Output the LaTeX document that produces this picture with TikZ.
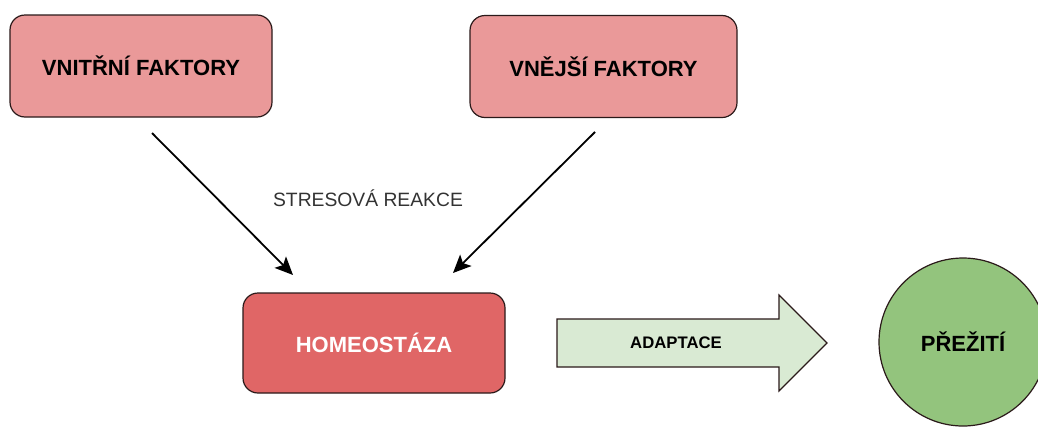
\documentclass[tikz,border=0pt]{standalone}
\usepackage{fontspec}
\setmainfont{Liberation Sans}
\usepackage{tikz}
\usetikzlibrary{arrows.meta, positioning, calc}

\definecolor{faktorRed}{HTML}{EA9999}
\definecolor{homeoRed}{HTML}{E06666}
\definecolor{adaptGreen}{HTML}{D9EAD3}
\definecolor{prezitiGreen}{HTML}{93C47D}
\definecolor{okraj}{HTML}{2B1A1A}

\tikzset{
    faktor/.style={draw=okraj, line width=1.2pt, rounded corners=15pt, fill=faktorRed,
        minimum width=262pt, minimum height=102pt, font=\fontsize{22}{26}\selectfont\bfseries},
    sipka/.style={-{Stealth[length=18pt, width=16pt, inset=4pt]}, line width=1.8pt}
}

\begin{document}
\begin{tikzpicture}[x=1pt, y=-1pt]

    % Rozmery obrazku
    \clip (0,0) rectangle (1038,426);
    \fill[white] (0,0) rectangle (1038,426);

    % --- FAKTORY ---
    \node[faktor] (vnitrni) at (141,66) {VNITŘNÍ FAKTORY};
    \node[faktor, minimum width=267pt] (vnejsi) at (603.5,66.5) {VNĚJŠÍ FAKTORY};

    % --- HOMEOSTAZA ---
    \node[faktor, fill=homeoRed, text=white, minimum height=100pt] (homeo) at (374,343) {HOMEOSTÁZA};

    % Popisek stresove reakce
    \node[font=\fontsize{19.3}{23}\selectfont, text=black!80] (stres) at (368,198) {STRESOVÁ REAKCE};

    % Sipky od faktoru k homeostaze
    \coordinate (vnitrniOut) at (152,133);
    \coordinate (homeoInL) at (293,275);
    \coordinate (vnejsiOut) at (595,132);
    \coordinate (homeoInR) at (453,273);
    \draw[sipka] (vnitrniOut) -- (homeoInL);
    \draw[sipka] (vnejsiOut) -- (homeoInR);

    % --- ADAPTACE (blokova sipka) ---
    \draw[draw=okraj, line width=1.2pt, fill=adaptGreen]
        (557,319) -- (779,319) -- (779,295) -- (827,343) -- (779,391) -- (779,367) -- (557,367) -- cycle;
    \node[font=\fontsize{16.7}{20}\selectfont\bfseries] (adapt) at (676,343) {ADAPTACE};

    % --- PREZITI ---
    \node[circle, draw=okraj, line width=1.2pt, fill=prezitiGreen, minimum size=168pt,
        font=\fontsize{22}{26}\selectfont\bfseries] (preziti) at (963,342) {PŘEŽITÍ};

\end{tikzpicture}
\end{document}
